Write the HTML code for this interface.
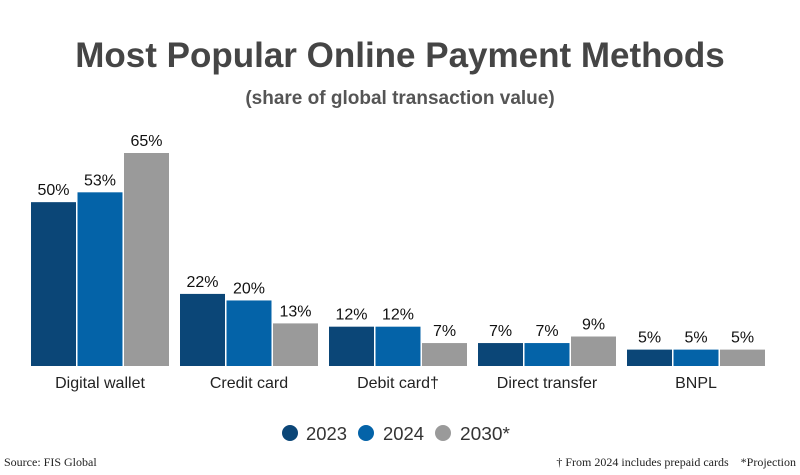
<!DOCTYPE html>
<html><head><meta charset="utf-8"><style>
body{margin:0;background:#fff;width:800px;height:475px;overflow:hidden;font-family:"Liberation Sans",sans-serif}
svg{display:block}
</style></head><body>
<svg id="c" width="800" height="475">
<text x="400" y="67" text-anchor="middle" font-size="35" font-weight="bold" fill="#454545">Most Popular Online Payment Methods</text>
<text x="400" y="104" text-anchor="middle" font-size="19" font-weight="bold" fill="#555">(share of global transaction value)</text>
<g id="bars"></g>
<g>
<g><circle cx="290" cy="433" r="8" fill="#0b4677"/><text x="306" y="440" font-size="18" fill="#333" textLength="41" lengthAdjust="spacingAndGlyphs">2023</text></g>
<g><circle cx="366" cy="433" r="8" fill="#0463a8"/><text x="383" y="440" font-size="18" fill="#333" textLength="41" lengthAdjust="spacingAndGlyphs">2024</text></g>
<g><circle cx="443" cy="433" r="8" fill="#9a9a9a"/><text x="460" y="440" font-size="18" fill="#333" textLength="50" lengthAdjust="spacingAndGlyphs">2030*</text></g>
</g>
<text x="4" y="466" font-size="12" font-family="Liberation Serif,serif" fill="#222">Source: FIS Global</text>
<text x="796" y="466" text-anchor="end" font-size="12" font-family="Liberation Serif,serif" fill="#222">† From 2024 includes prepaid cards &#160;&#160;&#160;*Projection</text>
</svg>
<script>
const categories=["Digital wallet","Credit card","Debit card†","Direct transfer","BNPL"];
const v2023=[50,22,12,7,5];
const v2024=[53,20,12,7,5];
const v2030=[65,13,7,9,5];
const series=[v2023,v2024,v2030];
const names=["2023","2024","2030"];
const colors=["#0b4677","#0463a8","#9a9a9a"];
const base=366, scale=213/65;
const y=v=>base-v*scale;
const gx=i=>31+i*149;
const g=document.getElementById('bars');
const NS="http://www.w3.org/2000/svg";
categories.forEach((c,i)=>{
  series.forEach((s,j)=>{
    const x=gx(i)+j*46.5;
    const r=document.createElementNS(NS,'rect');
    r.setAttribute('x',x);r.setAttribute('y',y(s[i]));r.setAttribute('width',45);r.setAttribute('height',base-y(s[i]));r.setAttribute('fill',colors[j]);
    
    
    g.appendChild(r);
    const t=document.createElementNS(NS,'text');
    t.setAttribute('x',x+22.5);t.setAttribute('y',y(s[i])-7);t.setAttribute('text-anchor','middle');t.setAttribute('font-size','16');t.setAttribute('fill','#111');
    t.textContent=s[i]+'%';
    
    
    g.appendChild(t);
  });
  const t=document.createElementNS(NS,'text');
  t.setAttribute('x',gx(i)+69);t.setAttribute('y',388);t.setAttribute('text-anchor','middle');t.setAttribute('font-size','16');t.setAttribute('fill','#222');
  t.textContent=c;
  
  
  g.appendChild(t);
});
</script>
</body></html>
